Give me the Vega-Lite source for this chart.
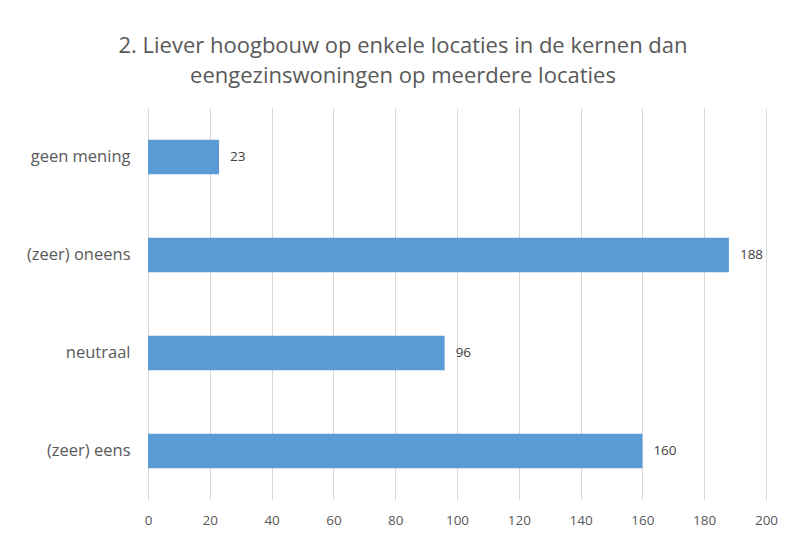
{
  "$schema": "https://vega.github.io/schema/vega-lite/v6.json",
  "autosize": "none",
  "width": 618,
  "height": 392,
  "padding": {"left": 148, "top": 108, "right": 23, "bottom": 35},
  "background": "white",
  "title": {
    "text": ["2. Liever hoogbouw op enkele locaties in de kernen dan", "eengezinswoningen op meerdere locaties"],
    "font": "Open Sans",
    "fontSize": 22,
    "fontWeight": "normal",
    "color": "#595959",
    "lineHeight": 30,
    "anchor": "middle",
    "dx": -54,
    "offset": 20
  },
  "data": {
    "values": [
      {"category": "geen mening", "count": 23},
      {"category": "(zeer) oneens", "count": 188},
      {"category": "neutraal", "count": 96},
      {"category": "(zeer) eens", "count": 160}
    ]
  },
  "encoding": {
    "y": {
      "field": "category",
      "type": "nominal",
      "sort": ["geen mening", "(zeer) oneens", "neutraal", "(zeer) eens"],
      "scale": {"paddingInner": 0.65, "paddingOuter": 0.325},
      "axis": {
        "title": null,
        "domain": false,
        "ticks": false,
        "labelFont": "Open Sans",
        "labelFontSize": 16.5,
        "labelColor": "#595959",
        "labelPadding": 18
      }
    },
    "x": {
      "field": "count",
      "type": "quantitative",
      "scale": {"domain": [0, 200], "nice": false},
      "axis": {
        "title": null,
        "values": [0, 20, 40, 60, 80, 100, 120, 140, 160, 180, 200],
        "domain": false,
        "ticks": false,
        "grid": true,
        "gridColor": "#d9d9d9",
        "gridWidth": 1,
        "labelFlush": false,
        "labelOverlap": false,
        "labelFont": "Open Sans",
        "labelFontSize": 13.5,
        "labelColor": "#595959",
        "labelPadding": 13
      }
    }
  },
  "layer": [
    {"mark": {"type": "bar", "color": "#5B9BD5"}},
    {
      "mark": {"type": "text", "align": "left", "baseline": "middle", "dx": 11, "font": "Open Sans", "fontSize": 13.5, "color": "#404040"},
      "encoding": {"text": {"field": "count", "type": "quantitative"}}
    }
  ],
  "config": {"view": {"stroke": null}}
}
